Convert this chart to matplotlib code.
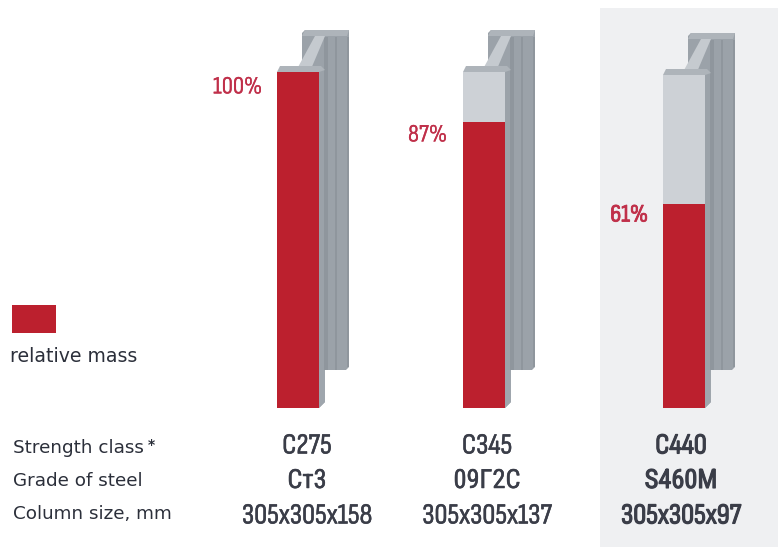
#!/usr/bin/env python3

"""Relative mass of steel columns by strength class."""

import matplotlib
matplotlib.use("Agg")
import matplotlib.pyplot as plt
import matplotlib.patheffects as pe
from matplotlib.patches import Polygon, Rectangle

strength_class = ["C275", "C345", "C440"]
steel_grade = ["Ст3", "09Г2С", "S460M"]
column_size = ["305x305x158", "305x305x137", "305x305x97"]
mass_labels = ["100%", "87%", "61%"]
# filled share of each column
mass_read = [100, 85, 60.7]
row_names = ["Strength class", "Grade of steel", "Column size, mm"]

RED = "#bc202e"
NARROW = ["Sofia Sans Condensed", "Roboto Condensed", "PT Sans Narrow", "Liberation Sans"]
# the first family draws Cyrillic т like an m, so the grade row uses another one
GRADE = ["Roboto Condensed", "PT Sans Narrow", "Liberation Sans"]

x_left = [277, 463, 663]
x_text = [307, 487, 681]
top_y = [72, 72, 75]
base_y = 408
bar_w = 42

fig = plt.figure(figsize=(7.78, 5.47), dpi=100)
ax = fig.add_axes([0, 0, 1, 1])
ax.set_xlim(0, 778)
ax.set_ylim(547, 0)
ax.axis("off")

# panel behind the recommended column
ax.add_patch(Rectangle((600, 8), 178, 539, fc="#eff0f2", ec="none", zorder=0))


def draw_column(x, top):
    dy = top - 72
    # back flange, side view
    ax.add_patch(Polygon([(x + 25, 33 + dy), (x + 28, 30 + dy), (x + 72, 30 + dy),
                          (x + 72, 367), (x + 69, 370), (x + 48, 370),
                          (x + 48, 402), (x + 42, 408), (x + 42, top),
                          (x + 25, top)], fc="#9ba2a9", ec="none", zorder=2))
    ax.add_patch(Rectangle((x + 47, 37 + dy), 4, 333 - dy, fc="#8f969d", ec="none", zorder=3))
    ax.add_patch(Rectangle((x + 58, 37 + dy), 2, 333 - dy, fc="#8f969d", ec="none", zorder=3))
    ax.add_patch(Rectangle((x + 70, 37 + dy), 2, 330 - dy, fc="#8f969d", ec="none", zorder=3))
    ax.add_patch(Polygon([(x + 42, 370), (x + 48, 370), (x + 48, 402), (x + 42, 408)],
                         fc="#9fa6ad", ec="none", zorder=3))
    # top faces and web
    ax.add_patch(Polygon([(x + 25, 36 + dy), (x + 28, 30 + dy), (x + 72, 30 + dy),
                          (x + 70, 36 + dy)], fc="#aeb4ba", ec="none", zorder=4))
    ax.add_patch(Polygon([(x + 38, 36 + dy), (x + 48, 36 + dy), (x + 34, top - 3),
                          (x + 20, top - 3)], fc="#c5cacf", ec="none", zorder=4))
    ax.add_patch(Polygon([(x, top), (x + 3, top - 6), (x + 44, top - 6),
                          (x + 48, top - 2), (x + 42, top)],
                         fc="#aeb4ba", ec="none", zorder=5))
    # full height of the column face
    ax.add_patch(Rectangle((x, top), bar_w, base_y - top, fc="#cdd1d6", ec="none", zorder=5))


for i, x in enumerate(x_left):
    draw_column(x, top_y[i])

# red fill from the bottom, 100 % = height of the first column
scale = (base_y - top_y[0]) / 100
ax.bar(x_left, [-m * scale for m in mass_read], width=bar_w, bottom=base_y,
       align="edge", color=RED, zorder=6)

label_y = [87, 135, 215]
label_x = [262, 447, 648]
for i, (x, y, s) in enumerate(zip(label_x, label_y, mass_labels)):
    t = ax.text(x, y, s, color="#c0304a", fontsize=18, family=NARROW, ha="right", va="center")
    t.set_path_effects([pe.withStroke(linewidth=0.6 if i == 2 else 0.1, foreground="#c0304a")])

for i in range(3):
    stroke = 0.8 if i == 2 else 0.35
    rows = [(446, strength_class[i], NARROW, 21),
            (481, steel_grade[i], GRADE, 19),
            (516, column_size[i], NARROW, 21)]
    for y, s, fam, size in rows:
        t = ax.text(x_text[i], y, s, color="#3a3d48", fontsize=size,
                    family=fam, ha="center", va="center")
        t.set_path_effects([pe.withStroke(linewidth=stroke, foreground="#3a3d48")])

# legend and row names
ax.add_patch(Rectangle((12, 305), 44, 28, fc=RED, ec="none", zorder=3))
ax.text(10, 357, "relative mass", color="#2b2f3a", fontsize=13.6, family="DejaVu Sans",
        ha="left", va="center")
for y, s in zip([448, 481, 514], row_names):
    ax.text(13, y, s, color="#2b2f3a", fontsize=13.2, family="DejaVu Sans",
            ha="left", va="center")
ax.text(151, 445, "*", color="#2b2f3a", fontsize=10, family="DejaVu Sans", weight="bold",
        ha="center", va="center")

fig.savefig("out.png", dpi=100)
